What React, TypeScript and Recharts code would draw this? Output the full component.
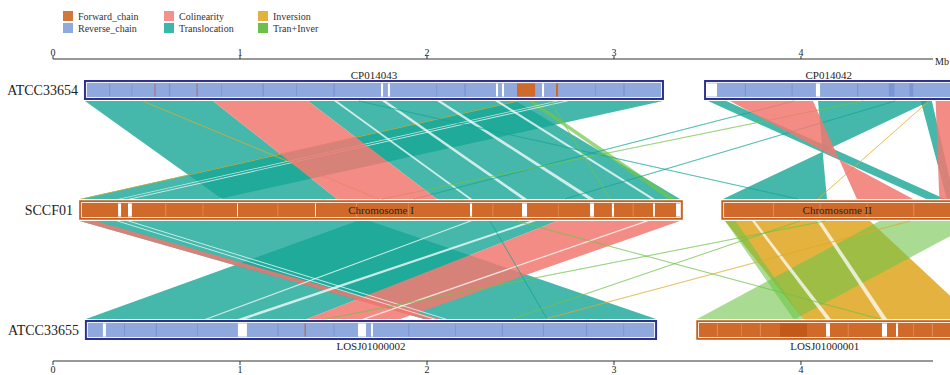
import React from 'react';
import { ComposedChart, XAxis, YAxis, ReferenceArea, Label } from 'recharts';

const SERIF = '"Liberation Serif", "Times New Roman", serif';

// axis (Mb)
const TICKS = [0, 1, 2, 3, 4];
const AXIS_MAX = 4.706;

// track centres on the hidden y axis
const Y_TOP = 2;
const Y_MID = 1;
const Y_BOT = 0;
const BAR_H = 0.075;
const LINK_GAP = 0.092;
const INSET_X = 0.008;
const INSET_Y = 0.0125;

const LEGEND = [
  { name: 'Forward_chain', color: '#d3763a' },
  { name: 'Colinearity', color: '#f3918a' },
  { name: 'Inversion', color: '#e2b23e' },
  { name: 'Reverse_chain', color: '#8eaadf' },
  { name: 'Translocation', color: '#3ab9ab' },
  { name: 'Tran+Inver', color: '#6cc04a' },
];

const COLORS = {
  forward: '#d06a2a',
  forwardEdge: '#c45e1c',
  reverse: '#8fa9dd',
  reverseEdge: '#2e3192',
  colinearity: '#f17870',
  translocation: '#16a696',
  inversion: '#e0aa2a',
  traninver: '#70c549',
};

type Seg = [number, number];
type Bar = { name: string; start: number; end: number; strand: 'forward' | 'reverse' };
type Link = { a: Seg; b: Seg };
type Line = { a: number; b: number; kind: keyof typeof COLORS };

const TOP_BARS: Bar[] = [
  { name: 'CP014043', start: 0.171, end: 3.262, strand: 'reverse' },
  { name: 'CP014042', start: 3.487, end: 4.81, strand: 'reverse' },
];
const MID_BARS: Bar[] = [
  { name: 'Chromosome I', start: 0.144, end: 3.364, strand: 'forward' },
  { name: 'Chromosome II', start: 3.578, end: 4.81, strand: 'forward' },
];
const BOT_BARS: Bar[] = [
  { name: 'LOSJ01000002', start: 0.176, end: 3.225, strand: 'reverse' },
  { name: 'LOSJ01000001', start: 3.444, end: 4.81, strand: 'forward' },
];

// blank stretches inside the bars
const TOP_GAPS: Seg[] = [
  [1.754, 1.765], [1.791, 1.802], [2.369, 2.38], [2.401, 2.412], [2.615, 2.626],
  [3.492, 3.551], [4.08, 4.102],
];
const MID_GAPS: Seg[] = [
  [0.348, 0.364], [0.401, 0.422], [0.984, 0.989], [1.401, 1.406], [2.23, 2.241],
  [2.508, 2.535], [2.872, 2.893], [2.989, 3.0], [3.209, 3.219], [3.332, 3.353],
];
const BOT_GAPS: Seg[] = [
  [0.267, 0.283], [0.989, 1.037], [1.631, 1.674], [1.701, 1.711],
  [4.134, 4.155], [4.433, 4.46], [4.508, 4.519],
];
// forward-chain pieces on ATCC33654 and darker spots
const TOP_FORWARD: Seg[] = [[2.481, 2.578], [2.69, 2.701]];
const DARK_MARKS_TOP: Seg[] = [[0.543, 0.548], [0.768, 0.773]];
const DARK_MARKS_BOT: Seg[] = [[1.346, 1.351], [3.888, 4.032]];
// fine darker streaks in the blue bars, lighter ones in the orange bars
const BLUE_STREAKS_TOP: Seg[] = [
  [0.3, 0.306], [0.42, 0.424], [0.62, 0.627], [0.9, 0.904], [1.12, 1.127], [1.3, 1.304],
  [1.5, 1.507], [2.05, 2.054], [2.2, 2.207], [2.9, 2.904], [3.05, 3.057], [3.7, 3.706],
  [3.95, 3.955], [4.3, 4.306], [4.47, 4.5], [4.58, 4.6],
];
const BLUE_STREAKS_BOT: Seg[] = [
  [0.38, 0.385], [0.55, 0.556], [0.77, 0.774], [1.2, 1.206], [1.5, 1.505], [1.9, 1.906],
  [2.15, 2.154], [2.4, 2.406], [2.62, 2.625], [2.85, 2.856], [3.05, 3.054],
];
const ORANGE_STREAKS_MID: Seg[] = [
  [0.6, 0.606], [0.8, 0.804], [1.2, 1.205], [1.62, 1.626], [1.9, 1.904], [2.35, 2.355],
  [2.7, 2.704], [3.1, 3.105], [3.85, 3.856], [4.1, 4.105], [4.35, 4.356], [4.6, 4.606],
];
const ORANGE_STREAKS_BOT: Seg[] = [
  [3.55, 3.556], [3.68, 3.684], [3.78, 3.786], [4.25, 4.255], [4.6, 4.605], [4.7, 4.706],
];

// ATCC33654 (a) -> SCCF01 (b)
const UP_TEAL: Link[] = [
  { a: [0.171, 0.856], b: [0.904, 1.519] },
  { a: [1.364, 2.476], b: [2.053, 3.353] },
  { a: [2.476, 3.262], b: [0.144, 0.888] },
  { a: [3.503, 3.6], b: [4.67, 4.77] },
  { a: [4.091, 4.69], b: [4.139, 3.583] },
  { a: [4.64, 4.7], b: [4.78, 4.82] },
];
const UP_SALMON: Link[] = [
  { a: [0.856, 1.364], b: [1.519, 2.053] },
  { a: [3.62, 4.064], b: [4.599, 4.299] },
  { a: [4.72, 4.95], b: [4.74, 4.95] },
];
const UP_GOLD: Link[] = [{ a: [2.476, 2.497], b: [0.144, 0.16] }];
const UP_GREEN: Link[] = [{ a: [2.54, 2.57], b: [3.29, 3.33] }];
const UP_LINES: Line[] = [
  { a: 3.963, b: 1.93, kind: 'translocation' },
  { a: 1.636, b: 3.984, kind: 'translocation' },
  { a: 4.332, b: 1.759, kind: 'traninver' },
  { a: 4.684, b: 4.091, kind: 'inversion' },
  { a: 4.503, b: 2.738, kind: 'translocation' },
  { a: 2.658, b: 2.979, kind: 'traninver' },
  { a: 0.48, b: 1.74, kind: 'inversion' },
];
const UP_BLANKS: Link[] = [
  { a: [1.503, 1.519], b: [2.225, 2.241] },
  { a: [1.759, 1.781], b: [2.508, 2.535] },
  { a: [2.053, 2.075], b: [2.861, 2.893] },
  { a: [2.364, 2.385], b: [3.198, 3.219] },
  { a: [2.69, 2.706], b: [0.348, 0.364] },
  { a: [2.738, 2.759], b: [0.401, 0.422] },
];

// SCCF01 (a) -> ATCC33655 (b)
const LOW_TEAL: Link[] = [
  { a: [0.144, 1.695], b: [1.984, 3.225] },
  { a: [1.626, 2.695], b: [0.176, 1.358] },
];
const LOW_SALMON: Link[] = [
  { a: [0.144, 0.225], b: [1.984, 2.07] },
  { a: [2.695, 3.353], b: [1.358, 1.856] },
];
const LOW_GOLD: Link[] = [{ a: [3.594, 4.369], b: [4.011, 4.93] }];
const LOW_GREEN: Link[] = [
  { a: [4.42, 4.95], b: [3.444, 3.968] },
  { a: [3.594, 3.65], b: [3.96, 4.01] },
];
const LOW_LINES: Line[] = [
  { a: 4.583, b: 2.631, kind: 'inversion' },
  { a: 2.476, b: 4.422, kind: 'traninver' },
  { a: 4.128, b: 1.46, kind: 'traninver' },
  { a: 2.337, b: 2.642, kind: 'translocation' },
  { a: 3.995, b: 2.455, kind: 'traninver' },
];
const LOW_BLANKS: Link[] = [
  { a: [0.337, 0.353], b: [2.032, 2.048] },
  { a: [0.396, 0.412], b: [2.091, 2.107] },
  { a: [2.225, 2.241], b: [0.813, 0.829] },
  { a: [2.551, 2.583], b: [0.989, 1.032] },
  { a: [3.166, 3.187], b: [1.652, 1.674] },
  { a: [3.738, 3.754], b: [4.134, 4.16] },
  { a: [4.086, 4.107], b: [4.433, 4.46] },
];

// rows that only give the axes something to hold on to
const AXIS_ROWS = TICKS.map((t, i) => ({ pos: t, track: i % 3 }));

const AX = { xAxisId: 'top', yAxisId: 'y', ifOverflow: 'visible' as const };

function linkShape(link: Link, color: string, opacity: number, asLine: boolean) {
  const xs = [...link.a, ...link.b];
  const lo = Math.min(...xs);
  const hi = Math.max(...xs);
  return (p: any) => {
    if (p.x == null || !p.width) return <g />;
    const px = (v: number) => p.x + ((v - lo) / (hi - lo)) * p.width;
    const y0 = p.y;
    const y1 = p.y + p.height;
    const d = `M${px(link.a[0])},${y0}L${px(link.a[1])},${y0}L${px(link.b[1])},${y1}L${px(link.b[0])},${y1}Z`;
    return asLine ? (
      <path d={d} fill="none" stroke={color} strokeOpacity={opacity} strokeWidth={0.8} />
    ) : (
      <path d={d} fill={color} fillOpacity={opacity} stroke="none" />
    );
  };
}

function links(list: Link[], upper: number, color: string, opacity: number, key: string) {
  return list.map((l, i) => {
    const xs = [...l.a, ...l.b];
    return (
      <ReferenceArea
        key={`${key}-${i}`}
        {...AX}
        x1={Math.min(...xs)}
        x2={Math.max(...xs)}
        y1={upper - 1 + LINK_GAP}
        y2={upper - LINK_GAP}
        shape={linkShape(l, color, opacity, false)}
      />
    );
  });
}

function lines(list: Line[], upper: number, key: string) {
  return list.map((l, i) => {
    const link: Link = { a: [l.a, l.a], b: [l.b, l.b] };
    return (
      <ReferenceArea
        key={`${key}-${i}`}
        {...AX}
        x1={Math.min(l.a, l.b)}
        x2={Math.max(l.a, l.b)}
        y1={upper - 1 + LINK_GAP}
        y2={upper - LINK_GAP}
        shape={linkShape(link, COLORS[l.kind], 0.6, true)}
      />
    );
  });
}

function bars(list: Bar[], y: number, key: string) {
  return list.map((b, i) => {
    const fwd = b.strand === 'forward';
    return (
      <ReferenceArea
        key={`${key}-o${i}`}
        {...AX}
        x1={b.start}
        x2={b.end}
        y1={y - BAR_H}
        y2={y + BAR_H}
        fill={fwd ? COLORS.forward : COLORS.reverse}
        fillOpacity={1}
        stroke={fwd ? COLORS.forwardEdge : COLORS.reverseEdge}
        strokeWidth={fwd ? 1.5 : 2}
      />
    );
  });
}

function outlines(list: Bar[], y: number, key: string) {
  return list.map((b, i) => (
    <ReferenceArea
      key={`${key}-i${i}`}
      {...AX}
      x1={b.start + INSET_X}
      x2={b.end - INSET_X}
      y1={y - BAR_H + INSET_Y}
      y2={y + BAR_H - INSET_Y}
      fill="none"
      stroke="#ffffff"
      strokeOpacity={0.85}
      strokeWidth={1}
    />
  ));
}

function marks(list: Seg[], y: number, color: string, key: string, opacity = 1) {
  return list.map((s, i) => (
    <ReferenceArea
      key={`${key}-${i}`}
      {...AX}
      x1={s[0]}
      x2={s[1]}
      y1={y - BAR_H + 0.02}
      y2={y + BAR_H - 0.02}
      fill={color}
      fillOpacity={opacity}
      stroke="none"
    />
  ));
}

function labels(list: Bar[], y: number, genome: string, pos: 'top' | 'center' | 'bottom', key: string) {
  return list.map((b, i) => (
    <ReferenceArea
      key={`${key}-${i}`}
      {...AX}
      x1={b.start}
      x2={b.end}
      y1={y - BAR_H}
      y2={y + BAR_H}
      fill="none"
      stroke="none"
    >
      <Label
        value={b.name}
        position={pos}
        offset={pos === 'top' ? 2 : 3}
        fontSize={11}
        fontFamily={SERIF}
        fill="#2a2320"
      />
      {i === 0 && (
        <Label value={genome} position="left" offset={7} fontSize={14} fontFamily={SERIF} fill="#222" />
      )}
    </ReferenceArea>
  ));
}

const tickStyle = { fontSize: 10, fontFamily: SERIF, fill: '#222' };

export default function App() {
  return (
    <div
      style={{
        position: 'absolute',
        left: 0,
        top: 0,
        width: 950,
        height: 375,
        overflow: 'hidden',
        background: '#fff',
      }}
    >
      <div
        style={{
          position: 'absolute',
          left: 63,
          top: 10,
          display: 'grid',
          gridTemplateColumns: '101px 94px 90px',
          gridAutoRows: '12px',
          fontFamily: SERIF,
          fontSize: 10,
          color: '#333',
          zIndex: 2,
        }}
      >
        {LEGEND.map((l) => (
          <div key={l.name} style={{ display: 'flex', alignItems: 'center', height: 12 }}>
            <span style={{ width: 10, height: 10, background: l.color, marginRight: 5, display: 'inline-block' }} />
            <span>{l.name}</span>
          </div>
        ))}
      </div>
      <ComposedChart
        width={1000}
        height={375}
        data={AXIS_ROWS}
        margin={{ top: 35, right: 67, bottom: 0, left: 53 }}
      >
        <XAxis
          xAxisId="top"
          dataKey="pos"
          orientation="top"
          type="number"
          domain={[0, AXIS_MAX]}
          ticks={TICKS}
          interval={0}
          allowDataOverflow
          height={24}
          tickSize={3}
          tickMargin={0}
          stroke="#333"
          tick={tickStyle}
        >
          <Label value="Mb" position="right" offset={2} dy={14} fontSize={10} fontFamily={SERIF} fill="#222" />
        </XAxis>
        <XAxis
          xAxisId="bot"
          dataKey="pos"
          orientation="bottom"
          type="number"
          domain={[0, AXIS_MAX]}
          ticks={TICKS}
          interval={0}
          allowDataOverflow
          height={14}
          tickSize={4}
          tickMargin={1}
          stroke="#333"
          tick={tickStyle}
        />
        <YAxis
          yAxisId="y"
          dataKey="track"
          type="number"
          domain={[-0.2583, 2.2583]}
          allowDataOverflow
          hide
        />

        {links(UP_TEAL, Y_TOP, COLORS.translocation, 0.8, 'ut')}
        {links(UP_GOLD, Y_TOP, COLORS.inversion, 0.9, 'ug')}
        {links(UP_GREEN, Y_TOP, COLORS.traninver, 0.7, 'ugr')}
        {links(UP_BLANKS, Y_TOP, '#ffffff', 0.75, 'ub')}
        {lines(UP_LINES, Y_TOP, 'ul')}
        {links(UP_SALMON, Y_TOP, COLORS.colinearity, 0.85, 'us')}

        {links(LOW_TEAL, Y_MID, COLORS.translocation, 0.8, 'lt')}
        {links(LOW_SALMON, Y_MID, COLORS.colinearity, 0.85, 'ls')}
        {links(LOW_GOLD, Y_MID, COLORS.inversion, 0.9, 'lg')}
        {links(LOW_GREEN, Y_MID, COLORS.traninver, 0.6, 'lgr')}
        {links(LOW_BLANKS, Y_MID, '#ffffff', 0.75, 'lb')}
        {lines(LOW_LINES, Y_MID, 'll')}

        {bars(TOP_BARS, Y_TOP, 'tb')}
        {bars(MID_BARS, Y_MID, 'mb')}
        {bars(BOT_BARS, Y_BOT, 'bb')}

        {marks(BLUE_STREAKS_TOP, Y_TOP, '#7390cf', 'tsk', 0.8)}
        {marks(BLUE_STREAKS_BOT, Y_BOT, '#7390cf', 'bsk', 0.8)}
        {marks(ORANGE_STREAKS_MID, Y_MID, '#e49262', 'msk', 0.8)}
        {marks(ORANGE_STREAKS_BOT, Y_BOT, '#e49262', 'bosk', 0.8)}
        {marks(TOP_FORWARD, Y_TOP, COLORS.forward, 'tf')}
        {marks(DARK_MARKS_TOP, Y_TOP, '#b0655e', 'tdm')}
        {marks(DARK_MARKS_BOT, Y_BOT, '#c2581a', 'bdm')}
        {marks(TOP_GAPS, Y_TOP, '#ffffff', 'tg')}
        {marks(MID_GAPS, Y_MID, '#ffffff', 'mg')}
        {marks(BOT_GAPS, Y_BOT, '#ffffff', 'bg')}

        {outlines(TOP_BARS, Y_TOP, 'to')}
        {outlines(MID_BARS, Y_MID, 'mo')}
        {outlines(BOT_BARS, Y_BOT, 'bo')}

        {labels(TOP_BARS, Y_TOP, 'ATCC33654', 'top', 'tl')}
        {labels(MID_BARS, Y_MID, 'SCCF01', 'center', 'ml')}
        {labels(BOT_BARS, Y_BOT, 'ATCC33655', 'bottom', 'bl')}
      </ComposedChart>
    </div>
  );
}
